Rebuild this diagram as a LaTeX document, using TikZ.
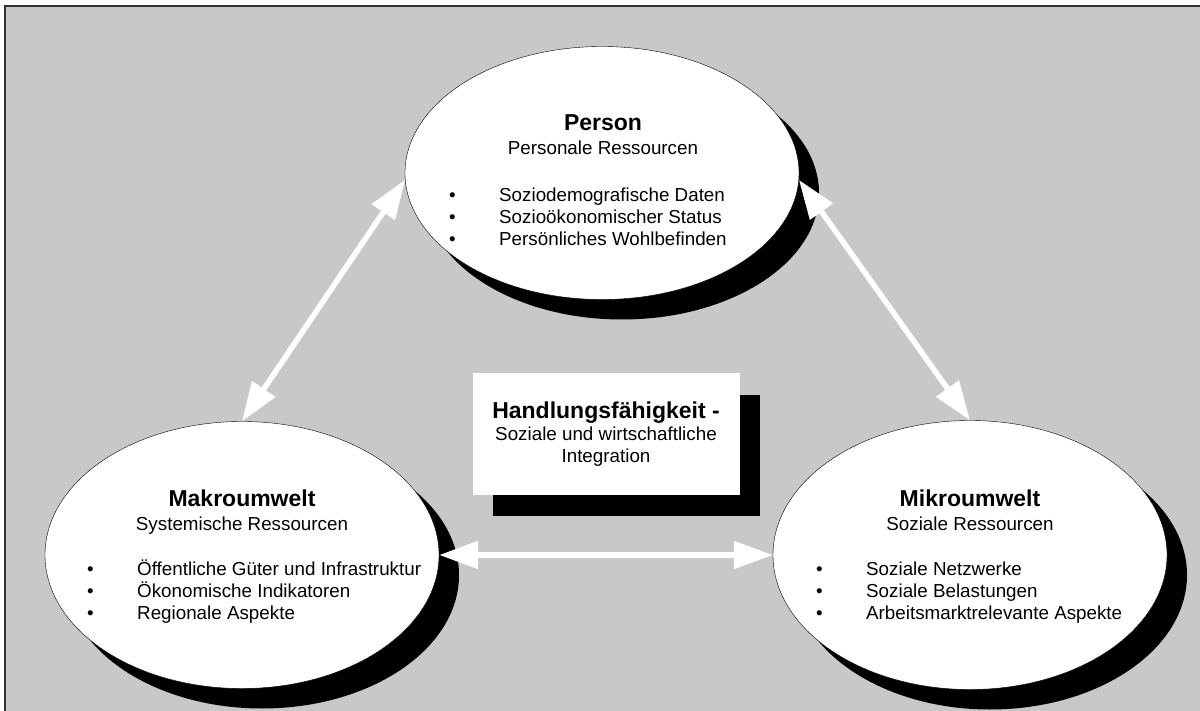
\documentclass[tikz,border=0pt]{standalone}
\usepackage{fontspec}
\setmainfont{Liberation Sans}
\usetikzlibrary{shapes.geometric,shadows,arrows.meta}
\definecolor{canvas}{HTML}{C8C8C8}
\tikzset{
  sphere/.style={ellipse, draw=black, thin, fill=white, inner sep=0pt,
    drop shadow={shadow xshift=20pt, shadow yshift=-20pt, fill=black, opacity=1}},
  card/.style={rectangle, fill=white, inner sep=0pt, align=center,
    font=\fontsize{18.8}{22}\selectfont,
    drop shadow={shadow xshift=20pt, shadow yshift=-21pt, fill=black, opacity=1}},
  head/.style={anchor=base, inner sep=0pt, font=\fontsize{23}{26}\selectfont\bfseries},
  sub/.style={anchor=base, inner sep=0pt, font=\fontsize{18.8}{22}\selectfont},
  items/.style={anchor=base west, inner sep=0pt, font=\fontsize{18.8}{22}\selectfont},
  link/.style={draw=white, line width=5.5pt,
    {Triangle[length=39pt,width=27pt]}-{Triangle[length=39pt,width=27pt]}}
}
\newcommand{\itm}{\makebox[50pt][l]{•}}

\begin{document}
\begin{tikzpicture}[x=1pt,y=-1pt]
\useasboundingbox (0,0) rectangle (1200,711);
\fill[canvas] (5,6) rectangle (1200,711);
\draw[black!80, line width=1.2pt] (5,711) -- (5,6) -- (1200,6);

\node[sphere, minimum width=394pt, minimum height=253pt](person) at (602,173){};
\node[sphere, minimum width=394pt, minimum height=267pt](makro) at (242,555){};
\node[sphere, minimum width=394pt, minimum height=269pt](mikro) at (970,555){};
\node[card, minimum width=267pt, minimum height=121pt](core) at (606,434)
  {{\fontsize{23}{24}\selectfont\bfseries Handlungsfähigkeit -}\\
   Soziale und wirtschaftliche\\ Integration};

% Person
\node[head](ptitle) at (603,131){Person};
\node[sub](psub) at (603,155){Personale Ressourcen};
\node[items](plist) at (449,202){\begin{tabular}[t]{@{}l@{}}
  \itm Soziodemografische Daten\\ \itm Sozioökonomischer Status\\
  \itm Persönliches Wohlbefinden\end{tabular}};

% Makroumwelt
\node[head](mtitle) at (242,506){Makroumwelt};
\node[sub](msub) at (242,530){Systemische Ressourcen};
\node[items](mlist) at (87,575){\begin{tabular}[t]{@{}l@{}}
  \itm Öffentliche Güter und Infrastruktur\\ \itm Ökonomische Indikatoren\\
  \itm Regionale Aspekte\end{tabular}};

% Mikroumwelt
\node[head](ktitle) at (970,506){Mikroumwelt};
\node[sub](ksub) at (970,530){Soziale Ressourcen};
\node[items](klist) at (816,575){\begin{tabular}[t]{@{}l@{}}
  \itm Soziale Netzwerke\\ \itm Soziale Belastungen\\
  \itm Arbeitsmarktrelevante Aspekte\end{tabular}};

\draw[link] (makro.north) -- (person.182);
\draw[link] (person.358) -- (mikro.north);
\draw[link] (makro.east) -- (mikro.west);
\end{tikzpicture}
\end{document}
